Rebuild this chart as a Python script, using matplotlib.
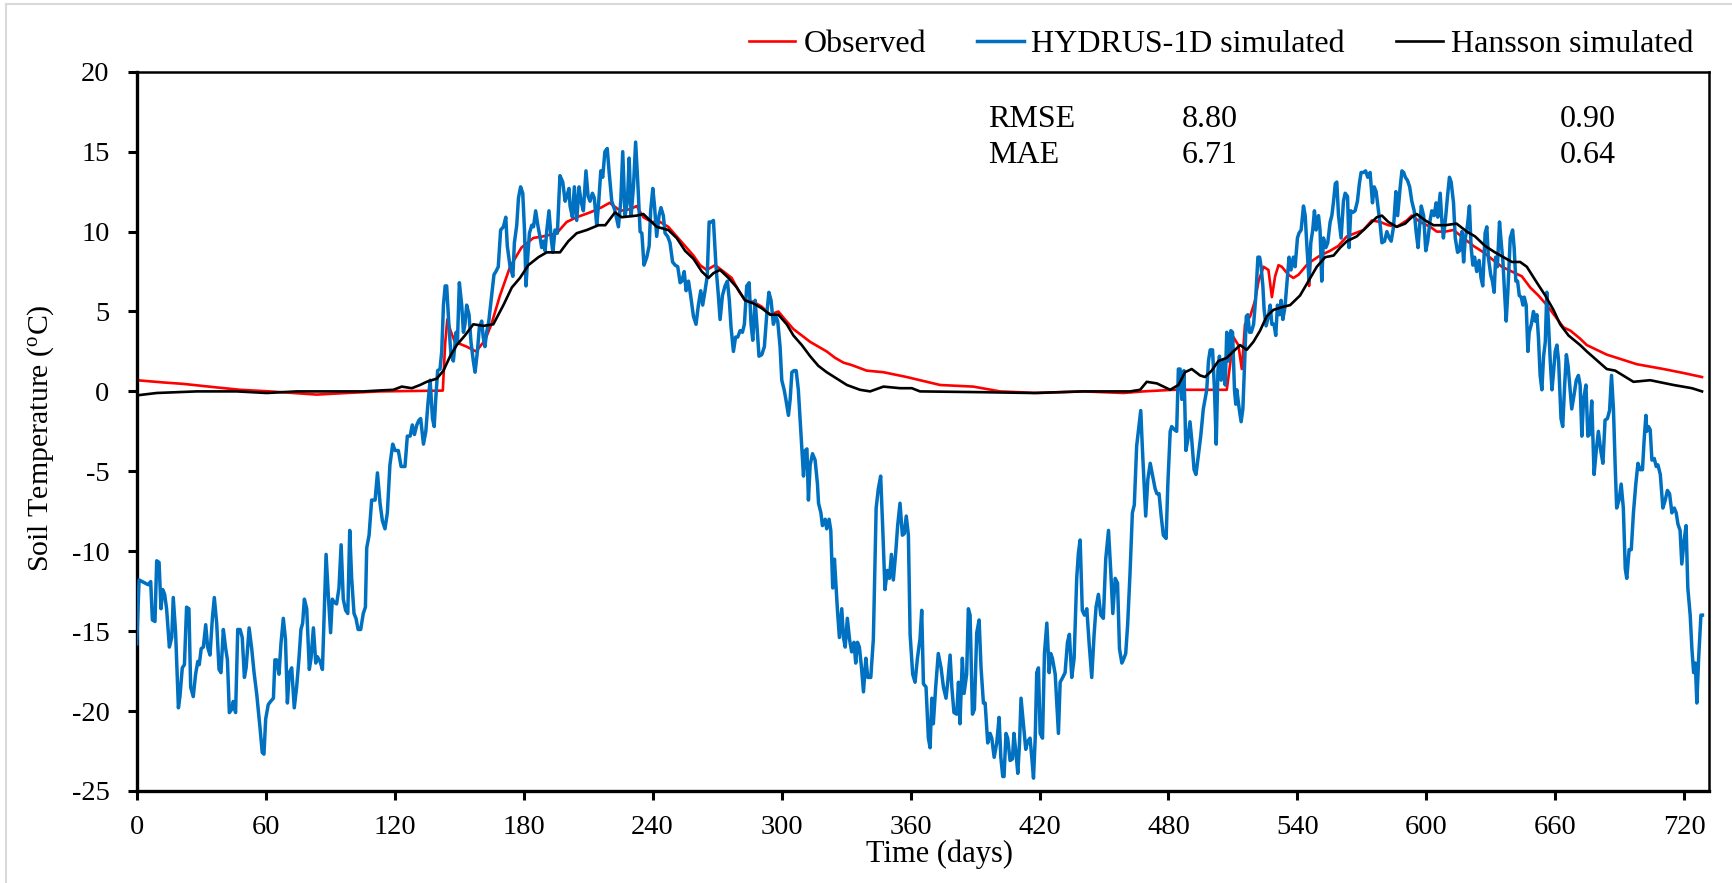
import matplotlib
matplotlib.use('Agg')
import matplotlib.pyplot as plt
from matplotlib.lines import Line2D

plt.rcParams['font.family'] = ['Liberation Serif', 'DejaVu Serif']
plt.rcParams['mathtext.fontset'] = 'custom'
plt.rcParams['mathtext.rm'] = 'Liberation Serif'
plt.rcParams['mathtext.it'] = 'Liberation Serif:italic'
plt.rcParams['axes.unicode_minus'] = False

# ---------------- data (day, temperature) ----------------
observed = [
    (0, 0.7), (12.4, 0.56), (21.7, 0.47), (35.7, 0.27), (48.1, 0.1), (62, 0.0),
    (83.7, -0.2), (97.7, -0.1), (113.2, 0.0), (125, 0.02), (135, 0.03), (142.4, 0.05),
    (143.5, 3.0), (144.5, 4.5), (146, 3.8), (148, 3.1), (153.5, 2.8), (157.9, 2.5),
    (162, 3.2), (165, 4.2), (169, 6.0), (173.7, 7.8), (179, 9.0), (184.5, 9.6),
    (189, 9.7), (195.4, 9.9), (200, 10.6), (204.7, 10.9), (210.9, 11.2), (216, 11.5),
    (220, 11.8), (225, 11.3), (229.5, 11.4), (232.6, 11.6), (235.7, 10.9), (239.6, 10.6),
    (243.5, 10.6), (247.3, 10.3), (251.2, 9.7), (255.1, 9.1), (259, 8.5), (262.1, 7.9),
    (265.2, 7.6), (269.1, 7.9), (273, 7.5), (276.8, 7.1), (280, 6.3), (283, 5.7),
    (287, 5.6), (290.8, 5.3), (294.7, 4.8), (298.5, 5.0), (301.6, 4.5), (305.5, 3.9),
    (309.4, 3.5), (313.3, 3.1), (317.1, 2.8), (321, 2.5), (324.9, 2.1), (328.8, 1.8),
    (332.6, 1.65), (339.6, 1.3), (347.4, 1.2), (358.2, 0.9), (373.8, 0.4), (389.2, 0.3),
    (401.6, 0.0), (418.7, -0.1), (440.4, 0.0), (459, -0.1), (468.3, 0.0), (482.3, 0.1),
    (507.1, 0.1), (508.5, 1.5), (510.2, 3.4), (512.5, 2.9), (514.1, 1.4), (515.6, 4.2),
    (518, 4.7), (520.3, 5.7), (521.9, 6.9), (524.2, 7.8), (526.5, 7.6), (528.1, 5.9),
    (529.6, 7.2), (531.2, 7.9), (532.7, 7.8), (535.8, 7.3), (538.1, 7.1), (540.5, 7.3),
    (543.6, 7.8), (545.0, 8.0), (545.4, 6.6), (546, 8.1), (550.5, 8.5), (555.2, 8.8),
    (559, 9.1), (563, 9.7), (566.8, 9.9), (570.7, 10.1), (574.6, 10.7), (578.5, 10.6),
    (582.3, 10.4), (586.2, 10.3), (590.9, 10.7), (593.2, 11.0), (597.1, 10.6), (601.8, 10.3),
    (604.8, 10.0), (608.7, 10.0), (612.6, 10.1), (617.2, 9.6), (621.9, 9.1), (626.6, 8.7),
    (631.2, 8.2), (635.1, 7.8), (639.8, 7.5), (644.4, 7.2), (648.3, 6.5), (652.1, 6.0),
    (656, 5.4), (659.9, 4.7), (663.8, 4.0), (667, 3.8), (671.5, 3.3), (674.6, 2.9),
    (683.9, 2.3), (697.9, 1.7), (710.3, 1.4), (719.6, 1.15), (728.2, 0.9),
]

hydrus = [
    (0, -15.8), (1.1, -11.8), (3.9, -12.0), (5.4, -12.1), (6.5, -11.9), (7.3, -14.3),
    (8.5, -14.4), (9.3, -10.6), (10.4, -10.7), (11.3, -13.6), (12.1, -12.4), (13.0, -12.7),
    (13.9, -13.6), (15.2, -16.0), (16.3, -15.4), (17.0, -12.9), (18.1, -15.1), (19.4, -19.8),
    (20.1, -19.1), (21.2, -17.3), (22.2, -17.1), (23.2, -13.5), (24.3, -13.6), (25.1, -18.5),
    (26.3, -19.1), (27.4, -17.7), (28.4, -16.9), (29.1, -17.1), (30.0, -16.1), (31.0, -16.0),
    (32.1, -14.6), (33.0, -16.0), (34.1, -16.5), (35.2, -14.2), (36.1, -12.9), (37.2, -14.5),
    (38.3, -17.4), (39.2, -17.6), (40.3, -14.9), (41.4, -16.1), (42.2, -16.8), (43.1, -20.1),
    (44.2, -19.9), (44.9, -19.4), (46.0, -20.1), (47.0, -14.9), (48.1, -14.9), (49.1, -15.4),
    (50.1, -17.9), (50.9, -17.3), (52.3, -14.8), (53.5, -16.1), (54.6, -17.6), (55.8, -18.9),
    (57.4, -21.1), (58.4, -22.6), (59.2, -22.7), (60.0, -20.5), (61.2, -19.6), (62.3, -19.4),
    (63.6, -19.2), (64.3, -16.8), (65.1, -16.8), (66.2, -17.7), (67.1, -15.8), (68.2, -14.2),
    (69.2, -15.5), (70.1, -19.5), (71.0, -17.6), (72.1, -17.3), (73.3, -19.8), (74.4, -18.5),
    (75.5, -16.7), (76.4, -14.9), (77.2, -14.5), (78.0, -13.0), (79.1, -13.6), (80.3, -17.4),
    (81.1, -16.7), (82.2, -14.8), (83.3, -17.0), (84.0, -16.6), (85.3, -16.9), (86.4, -17.4),
    (88.1, -10.2), (89.2, -12.9), (90.2, -15.1), (91.0, -13.0), (91.9, -13.2), (93.0, -13.3),
    (94.1, -12.3), (95.1, -9.6), (96.1, -13.0), (97.2, -13.7), (98.2, -13.9), (99.1, -8.7),
    (100.0, -11.7), (101.1, -13.9), (102.0, -14.2), (103.0, -14.9), (104.2, -14.9), (105.4, -13.9),
    (106.4, -13.5), (107.0, -9.8), (108.1, -9.0),
    (109.3, -6.8), (110.9, -6.8), (112.0, -5.1), (113.2, -7.0), (114.3, -8.1), (115.5, -8.6),
    (116.6, -7.6), (117.8, -4.6), (119.1, -3.3), (120.2, -3.7), (121.7, -3.7), (123.0, -4.7),
    (124.8, -4.7), (125.9, -2.8), (127.2, -2.8), (128.2, -2.1), (129.2, -2.7), (130.3, -2.1),
    (131.3, -1.8), (132.1, -1.7), (133.4, -3.3), (134.5, -2.5), (135.4, -0.9), (136.5, 0.7),
    (137.6, -1.7), (138.4, -2.2), (139.1, -0.5), (140.0, 1.3), (141.1, 1.4), (141.9, 2.5),
    (142.7, 5.4), (143.5, 6.6), (144.2, 6.6), (145.3, 4.0), (146.2, 2.3), (147.3, 1.9),
    (148.6, 3.7), (149.2, 3.1), (150.1, 6.8), (151.2, 5.4), (152.0, 3.7), (152.7, 4.2),
    (153.5, 5.4), (154.6, 4.8), (155.5, 3.1), (156.6, 1.9), (157.4, 1.2), (158.5, 2.5),
    (159.4, 4.0), (160.5, 4.4), (161.2, 3.4), (162.0, 2.8), (162.8, 3.7), (163.8, 4.4),
    (165.1, 6.0), (166.2, 7.3), (167.1, 7.5), (168.2, 7.8), (169.3, 10.1), (170.6, 10.3),
    (171.7, 10.9), (172.4, 9.1), (173.7, 7.8), (175.0, 7.2), (175.7, 9.3), (176.8, 10.4),
    (177.6, 12.1), (178.6, 12.8), (179.6, 12.4), (180.4, 10.1), (181.1, 6.6), (181.9, 8.4),
    (182.7, 9.9), (183.8, 10.4), (184.6, 10.3), (185.6, 11.3), (186.6, 10.4), (187.7, 9.6),
    (188.4, 9.0), (189.2, 9.4), (190.0, 8.8), (190.8, 10.1), (191.8, 11.3), (192.8, 9.6),
    (193.6, 8.7), (194.6, 10.1), (195.7, 9.9), (196.9, 13.5), (198.2, 13.1), (199.3, 11.9),
    (200.1, 12.2), (201.1, 12.7), (201.6, 11.6), (202.7, 10.9), (203.6, 12.8), (204.7, 10.7),
    (205.8, 12.8), (206.7, 11.9), (207.8, 11.3), (209.0, 13.8), (210.0, 12.2), (210.9, 11.9),
    (212.0, 12.4), (212.9, 12.1), (214.0, 10.4), (214.8, 11.6), (215.9, 13.8), (216.8, 13.4),
    (217.8, 15.0), (218.9, 15.2), (219.8, 13.7),
    (221.0, 11.9), (222.5, 11.3), (224.1, 10.3), (225.2, 11.9), (226.1, 15.0), (227.2, 11.0),
    (228.3, 11.9), (229.1, 14.6), (230.0, 11.0), (231.1, 12.8), (232.1, 15.6), (233.1, 13.1),
    (234.2, 10.0), (235.0, 9.9), (236.0, 7.9), (237.3, 8.4), (238.4, 9.1), (239.1, 11.3),
    (240.1, 12.7), (240.9, 11.6), (241.9, 9.7), (243.0, 11.0), (243.9, 11.5), (245.0, 11.0),
    (245.8, 9.9), (247.0, 9.7), (248.1, 9.3), (249.3, 8.1), (250.5, 7.9), (251.7, 7.8),
    (252.8, 6.8), (253.6, 6.9), (254.7, 7.5), (255.6, 6.3), (256.7, 6.9), (257.7, 6.0),
    (259.0, 4.7), (260.2, 4.2), (261.3, 5.4), (262.4, 6.3), (263.3, 5.4), (264.4, 6.3),
    (265.4, 7.2), (266.3, 10.6), (267.4, 10.6), (268.3, 10.7), (269.5, 7.8), (270.6, 6.0),
    (271.4, 4.5), (272.5, 6.0), (273.7, 6.6), (274.8, 6.9), (275.7, 5.7), (276.5, 4.0),
    (277.6, 2.5), (278.6, 3.4), (279.6, 3.4), (280.7, 3.8), (281.8, 3.7), (282.7, 4.2),
    (283.8, 6.6), (284.9, 6.8), (285.8, 4.2), (286.6, 3.2), (287.7, 5.7), (288.5, 4.2),
    (289.5, 2.2), (290.8, 2.3), (292.0, 2.8), (293.1, 4.8), (294.1, 6.2), (295.1, 5.7),
    (296.2, 4.2), (297.3, 4.7), (298.2, 4.4), (299.3, 2.8), (300.1, 0.7), (301.2, 0.1),
    (302.0, -0.5), (303.2, -1.5), (304.0, -0.5), (304.8, 1.2), (305.8, 1.3), (306.8, 1.3),
    (307.8, 0.1), (308.6, -1.7), (309.4, -3.4), (310.2, -5.3), (311.0, -3.7), (311.8, -3.6),
    (312.5, -6.8), (313.3, -4.6), (314.4, -3.9), (315.6, -4.3), (316.7, -5.8), (317.2, -7.0),
    (318.3, -7.6), (319.0, -8.4), (320.3, -8.0), (321.0, -8.6), (322.1, -8.0), (322.9, -8.7),
    (323.8, -12.3), (324.6, -10.5), (325.4, -12.3), (326.0, -13.7), (326.9, -15.4), (328.0, -13.6),
    (328.8, -15.4), (329.6, -16.0), (330.6, -14.2), (331.6, -15.5),
    (332.6, -16.3), (333.7, -15.7), (334.5, -17.0), (335.3, -15.7), (336.2, -16.0), (337.2, -17.3),
    (338.1, -18.8), (339.2, -16.7), (340.1, -17.9), (341.5, -17.9), (342.7, -15.5), (344.0, -7.3),
    (345.0, -6.1), (346.1, -5.3), (347.1, -8.7), (348.1, -12.4), (349.2, -11.2), (350.2, -11.7),
    (351.1, -10.2), (352.0, -11.8), (353.1, -10.1), (354.0, -8.4), (355.1, -7.0), (356.2, -9.0),
    (357.1, -8.9), (358.0, -7.8), (359.0, -9.0), (359.8, -15.2), (361.0, -17.7), (362.1, -18.2),
    (363.2, -16.7), (364.4, -15.5), (365.2, -13.7), (366.0, -18.3), (367.2, -18.5), (368.3, -21.7),
    (369.1, -22.3), (369.9, -19.2), (370.6, -20.8), (371.7, -18.5), (372.9, -16.4), (374.2, -17.3),
    (375.3, -18.5), (376.5, -19.2), (377.3, -18.2), (378.4, -16.5), (379.2, -18.5), (380.2, -20.1),
    (381.5, -20.2), (382.3, -18.2), (383.0, -20.8), (384.1, -16.7), (384.9, -18.9), (386.1, -17.7),
    (386.9, -13.6), (387.7, -14.0), (388.8, -20.2), (389.7, -19.9), (390.8, -15.1), (391.9, -14.3),
    (392.8, -17.3), (393.9, -19.5), (394.7, -19.5), (395.9, -22.0), (397.0, -21.4), (397.8, -21.7),
    (398.9, -22.9), (400.1, -22.0), (401.2, -20.4), (402.0, -22.9), (402.9, -24.1), (403.5, -24.1),
    (404.4, -21.4), (405.2, -21.7), (406.3, -23.1), (407.4, -23.0), (408.1, -21.4), (409.1, -22.7),
    (409.9, -23.9), (410.7, -22.0), (411.4, -19.2), (412.5, -20.8), (413.6, -22.4), (414.5, -21.9),
    (415.6, -21.7), (416.4, -22.9), (417.2, -24.2), (418.0, -21.7), (418.7, -17.6), (419.5, -17.3),
    (420.3, -21.4), (421.4, -21.7), (422.3, -16.4), (423.4, -14.5), (424.5, -17.6), (425.2, -16.4),
    (426.0, -16.7), (427.3, -17.7), (428.0, -19.4), (428.8, -21.4), (429.6, -18.2), (430.8, -17.9),
    (431.9, -17.6), (433.0, -15.7), (433.9, -15.2), (435.0, -17.9), (436.1, -16.7), (437.3, -11.7),
    (438.1, -10.1), (438.9, -9.3), (439.9, -13.7), (440.9, -14.0), (442.0, -13.6), (443.1, -15.8),
    (444.3, -17.9), (445.4, -15.2), (446.3, -13.5), (447.4, -12.7), (448.5, -14.0), (449.7, -14.2),
    (450.8, -10.5), (452.1, -8.7), (453.2, -11.4), (454.1, -13.9), (455.2, -11.7), (456.3, -12.0),
    (457.2, -16.1), (458.3, -17.0), (459.0, -16.8), (460.1, -16.4), (461.0, -14.6), (462.1, -11.4),
    (463.2, -7.6), (464.1, -7.1), (465.2, -3.4), (466.3, -2.1), (467.1, -1.2), (467.9, -3.7),
    (468.7, -5.9), (469.4, -7.8), (470.4, -5.5), (471.5, -4.5), (472.5, -5.2), (473.8, -6.1),
    (474.6, -6.4), (475.6, -6.4), (476.6, -7.8), (477.6, -9.0), (478.9, -9.2), (479.7, -5.8),
    (480.8, -2.5), (481.5, -2.2), (482.8, -2.4), (483.8, -2.5), (484.6, 1.4), (485.4, 1.4),
    (486.2, -0.5), (487.2, 1.3), (488.1, -3.7), (488.9, -3.1), (490.0, -1.9), (490.8, -3.0),
    (491.9, -4.9), (492.8, -5.2), (493.9, -4.0), (495.0, -2.8), (496.2, -1.1), (497.0, -0.5),
    (497.8, 0.1), (498.6, 1.9), (499.4, 2.6), (500.5, 2.6), (501.4, 0.1), (502.2, -3.3),
    (503.0, 1.3), (503.7, 2.2), (504.5, 0.7), (505.6, 1.9), (506.4, 0.4), (507.1, 3.7),
    (507.9, 1.9), (509.0, 3.8), (509.8, 3.7), (510.7, 0.1), (511.3, -0.8), (511.8, 0.1),
    (512.9, -1.1), (513.8, -1.9), (514.6, -1.1), (515.4, 1.7), (516.2, 4.7), (516.9, 4.8),
    (517.7, 3.7), (518.5, 3.7), (519.6, 4.2), (520.6, 5.9), (521.6, 8.4), (522.4, 8.4),
    (523.1, 7.8), (523.9, 6.6), (524.5, 5.1), (525.4, 4.1), (526.5, 4.7), (527.3, 5.4),
    (528.1, 4.2), (529.1, 4.2), (529.9, 3.5), (530.7, 5.4), (531.6, 4.8), (532.4, 5.7),
    (533.2, 4.5), (534.2, 5.3), (535.0, 6.6), (536.1, 8.4), (537.0, 7.6), (538.1, 8.4),
    (538.9, 7.8), (540.0, 9.6), (540.7, 9.9), (541.7, 10.1), (542.8, 11.6), (543.6, 11.0),
    (544.3, 9.3), (545.4, 6.9), (546.2, 9.3), (547.1, 10.1), (547.9, 11.3), (548.7, 10.1),
    (549.8, 11.0), (550.5, 10.1), (551.3, 6.9), (552.1, 9.6), (553.2, 9.0), (554.1, 9.3),
    (555.2, 10.6), (556.0, 11.0), (556.8, 11.9), (557.6, 13.0), (558.3, 13.1), (559.1, 11.0),
    (560.3, 9.6), (561.4, 11.9), (562.2, 12.4), (563.3, 12.2), (564.0, 9.0), (564.8, 11.3),
    (565.7, 11.2), (566.8, 11.3), (567.9, 11.9), (568.8, 13.0), (569.6, 13.7), (570.7, 13.7),
    (571.7, 13.8), (572.7, 13.4), (573.8, 13.7), (574.9, 11.8), (575.7, 12.8), (576.6, 12.5),
    (577.7, 11.3), (578.5, 10.4), (579.3, 9.3), (580.5, 9.4), (581.6, 10.0), (582.7, 9.6),
    (583.6, 9.4), (584.7, 10.3), (585.8, 12.5), (586.6, 11.0), (587.8, 12.8), (588.6, 13.8),
    (589.4, 13.7), (590.2, 13.4), (591.2, 13.2), (592.2, 12.8), (593.2, 11.9), (594.3, 11.3),
    (595.2, 10.0), (596.1, 9.0), (596.8, 10.3), (597.6, 11.6), (598.7, 11.0), (599.7, 8.8),
    (600.6, 9.4), (601.7, 10.7), (602.5, 11.3), (603.6, 11.0), (604.5, 11.8), (605.3, 10.9),
    (606.4, 12.4), (607.2, 10.6), (607.9, 9.6), (609.0, 11.0), (609.8, 12.2), (610.7, 13.4),
    (611.5, 13.1), (612.6, 11.8), (613.4, 9.6), (614.5, 8.7), (615.4, 8.8), (616.5, 10.0),
    (617.3, 8.1), (618.1, 9.6), (619.1, 10.4), (620.0, 11.6), (620.8, 9.0), (621.6, 7.9),
    (622.4, 8.4), (623.4, 7.5), (624.5, 8.2), (625.4, 7.1), (626.2, 6.6), (627.3, 9.9),
    (628.1, 10.3), (628.8, 8.4), (629.9, 7.3), (630.7, 6.9), (631.5, 6.2), (632.2, 8.4),
    (633.0, 7.8), (634.0, 10.6), (634.8, 9.3), (635.6, 8.1), (636.3, 6.3), (637.1, 4.4),
    (637.9, 6.3), (639.0, 9.6), (640.1, 10.1), (640.8, 9.0), (641.6, 6.9), (642.4, 6.9),
    (643.2, 6.0), (644.1, 5.9), (644.9, 5.4), (645.5, 5.9), (646.4, 5.4), (647.2, 2.5),
    (647.8, 3.7), (648.8, 4.2), (649.8, 5.0), (650.6, 4.4), (651.4, 4.8), (652.1, 3.4),
    (652.9, 1.0), (653.7, 0.1), (654.5, 2.2), (655.3, 3.1), (656.0, 6.2), (656.8, 4.2),
    (657.6, 1.9), (658.4, 0.1), (659.2, 1.3), (659.9, 2.5), (660.7, 2.9), (661.5, 1.9),
    (662.6, -1.7), (663.4, -2.2), (664.3, 0.4), (665.1, 2.3), (665.9, 1.6),
    (667.6, -1.1), (668.7, -0.2), (669.7, 0.7), (670.7, 1.0), (671.5, 0.4), (672.3, -2.8),
    (673.1, -0.5), (674.2, 0.4), (675.1, -2.8), (675.9, -2.7), (676.9, -0.6), (678.0, -5.2),
    (679.0, -3.7), (680.0, -2.5), (681.1, -3.7), (682.1, -4.5), (683.1, -1.8), (684.2, -1.7),
    (685.2, -1.2), (686.1, 1.0), (687.0, -1.1), (687.8, -4.6), (688.5, -7.3), (689.6, -6.8),
    (690.6, -5.8), (691.6, -7.3), (692.5, -11.1), (693.2, -11.7), (694.3, -9.9), (695.3, -9.9),
    (696.3, -7.6), (697.4, -5.8), (698.4, -4.5), (699.4, -4.9), (700.5, -4.9), (701.3, -3.0),
    (702.1, -1.5), (702.5, -2.5), (703.3, -2.2), (704.1, -2.4), (704.9, -4.3), (706.0, -4.2),
    (706.9, -4.7), (707.7, -4.6), (708.8, -5.2), (710.0, -7.3), (711.1, -6.8), (712.1, -6.2),
    (713.1, -6.4), (714.2, -7.6), (715.3, -7.3), (716.2, -7.6), (717.0, -8.3), (718.0, -8.7),
    (718.8, -10.8), (719.9, -9.3), (720.8, -8.4), (721.6, -12.3), (722.7, -14.0), (723.5, -16.1),
    (724.3, -17.6), (725.1, -17.0), (725.8, -19.5), (726.6, -16.8), (727.7, -14.0), (728.4, -14.0),
]

hansson = [
    (0, -0.25), (9.3, -0.1), (27.9, 0.0), (46.5, 0.0), (60.5, -0.1), (74.4, 0.0),
    (93, 0.0), (105.4, 0.0), (113.2, 0.06), (119.4, 0.1), (123.3, 0.3), (128, 0.2),
    (131.8, 0.4), (134.9, 0.6), (139.6, 0.8), (142.7, 1.3), (145.8, 2.2), (148.9, 2.9),
    (152.7, 3.5), (156.6, 4.2), (161.3, 4.1), (165.9, 4.2), (170.6, 5.4), (174.5, 6.5),
    (178.3, 7.1), (182.2, 7.9), (186.9, 8.4), (190.7, 8.7), (196.9, 8.7), (200.8, 9.4),
    (204.7, 9.9), (209.4, 10.1), (214.8, 10.4), (218, 10.4), (222.5, 11.2), (225.6, 10.9),
    (232.6, 11.0), (235.7, 11.1), (239.6, 10.6), (241.9, 10.3), (247.3, 10.1), (251.2, 9.6),
    (255.1, 8.8), (259, 8.3), (262.9, 7.5), (266, 7.1), (268.3, 7.4), (271.4, 7.6),
    (275.3, 7.1), (279.2, 6.5), (283, 5.7), (287, 5.5), (290.8, 5.2), (294.7, 4.8),
    (298.5, 4.8), (302.4, 4.2), (305.5, 3.5), (309.4, 2.9), (313.3, 2.2), (317.1, 1.6),
    (321, 1.2), (325.7, 0.8), (330.4, 0.4), (336.5, 0.1), (341.2, 0.0), (347.4, 0.3),
    (355.2, 0.2), (360.6, 0.2), (364.4, 0.0), (393.9, -0.05), (417.1, -0.1), (440.4, 0.0),
    (452.9, 0.0), (462.1, 0.0), (466.8, 0.1), (469.9, 0.6), (474.6, 0.5), (480.8, 0.1),
    (484.6, 0.4), (487.7, 1.2), (490.8, 1.4), (494.7, 1.0), (497, 0.9), (500.1, 1.3),
    (503.2, 1.9), (507.1, 2.1), (510.2, 2.5), (513.3, 2.9), (516.4, 2.6), (519.5, 3.1),
    (522.6, 3.8), (525.7, 4.7), (528.8, 5.1), (533.5, 5.3), (536.6, 5.4), (541.2, 6.0),
    (545.1, 6.9), (549, 7.8), (552.9, 8.4), (556.8, 8.5), (559.9, 9.0), (563, 9.4),
    (567.6, 9.7), (572.3, 10.3), (576.9, 10.9), (579.3, 11.0), (582.3, 10.6), (586.2, 10.3),
    (590.1, 10.5), (593.2, 10.9), (595.5, 11.1), (599.4, 10.7), (603.3, 10.4), (608.7, 10.4),
    (614, 10.5), (618.8, 10.0), (622.6, 9.7), (627.3, 9.1), (631.9, 8.7), (635.8, 8.4),
    (639.8, 8.1), (643.6, 8.1), (646.7, 7.8), (651.4, 6.8), (655.3, 6.0), (659.1, 5.1),
    (662.2, 4.2), (666.1, 3.5), (671.5, 2.9), (674.6, 2.5), (683.9, 1.4), (687.8, 1.3),
    (696.3, 0.6), (704.1, 0.7), (715, 0.4), (723.5, 0.2), (728.2, 0.0),
]

series_labels = ['Observed', 'HYDRUS-1D simulated', 'Hansson simulated']
series_colors = ['#FF0000', '#0070C0', '#000000']

stat_names = ['RMSE', 'MAE']
hydrus_stats = ['8.80', '6.71']
hansson_stats = ['0.90', '0.64']

x_ticks = list(range(0, 721, 60))
y_ticks = list(range(-25, 21, 5))

# ---------------- figure ----------------
fig = plt.figure(figsize=(17.32, 8.83), dpi=100)
ax = fig.add_axes([0.07893, 0.10430, 0.90797, 0.81439])

series = [observed, hydrus, hansson]
widths = [1.9, 2.5, 1.9]
for pts, col, lw, lab, z in zip(series, series_colors, widths, series_labels, [2, 3, 4]):
    xs = [p[0] for p in pts]
    ys = [p[1] for p in pts]
    ax.plot(xs, ys, color=col, lw=lw, label=lab, zorder=z, solid_joinstyle='round')

ax.set_xlim(0, 731.6)
ax.set_ylim(-25, 20)
ax.set_xticks(x_ticks)
ax.set_yticks(y_ticks)
ax.tick_params(axis='both', direction='out', length=6.5, width=2.2,
               labelsize=20.5, color='black')
ax.tick_params(axis='x', pad=11)
ax.tick_params(axis='y', pad=13)

for side in ['left', 'bottom']:
    ax.spines[side].set_linewidth(2.4)
for side in ['top', 'right']:
    ax.spines[side].set_linewidth(1.8)

fig.text(41 / 1732, 0.504, r'Soil Temperature ($^{\mathrm{o}}$C)', rotation=90,
         ha='center', va='center', fontsize=21.5)
fig.text(939 / 1732, 1 - 854 / 883, 'Time (days)', ha='center', va='center', fontsize=22)

# statistics table
row_y = [16.56, 14.27]
for name, hv, kv, yy in zip(stat_names, hydrus_stats, hansson_stats, row_y):
    ax.text(396.1, yy, name, fontsize=23, va='baseline', ha='left')
    ax.text(486.2, yy, hv, fontsize=23, va='baseline', ha='left')
    ax.text(662.0, yy, kv, fontsize=23, va='baseline', ha='left')

handles = [Line2D([], [], color=c, lw=w) for c, w in zip(series_colors, widths)]
fig.legend(handles, series_labels, loc='center right', bbox_to_anchor=(0.9775, 0.950),
           ncol=3, frameon=False, fontsize=23, handlelength=1.45, handletextpad=0.25,
           columnspacing=1.6, borderpad=0, borderaxespad=0)

# light chart-area border
fig.add_artist(Line2D([6 / 1732, 1], [1 - 4 / 883, 1 - 4 / 883], transform=fig.transFigure,
                      color='#D9D9D9', lw=1.5))
fig.add_artist(Line2D([6 / 1732, 6 / 1732], [0, 1 - 4 / 883], transform=fig.transFigure,
                      color='#D9D9D9', lw=1.5))

fig.savefig('out.png', dpi=100)
